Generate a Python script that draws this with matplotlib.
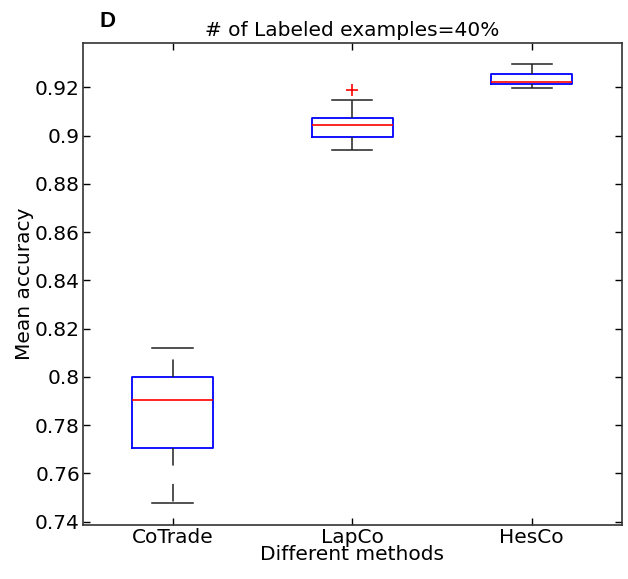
import matplotlib
matplotlib.use('Agg')
import matplotlib.pyplot as plt

plt.rcParams['font.family'] = ['DejaVu Sans']

# values
methods = ['CoTrade', 'LapCo', 'HesCo']
q1 = [0.7706, 0.8996, 0.9214]
med = [0.7904, 0.9046, 0.9223]
q3 = [0.7998, 0.9072, 0.9255]
whislo = [0.7477, 0.8942, 0.9197]
whishi = [0.8121, 0.9150, 0.9296]
outliers = [[], [0.9190], []]

stats = []
for i in range(len(methods)):
	stats.append(dict(label=methods[i], q1=q1[i], med=med[i], q3=q3[i],
					  whislo=whislo[i], whishi=whishi[i], fliers=outliers[i]))

fig = plt.figure(figsize=(6.28, 5.79), dpi=100)
ax = fig.add_axes([0.1317, 0.0933, 0.8580, 0.8319])

ax.bxp(stats, widths=0.45,
	   boxprops=dict(color='blue', linewidth=1.3),
	   medianprops=dict(color='red', linewidth=1.2),
	   whiskerprops=dict(color='#222222', linewidth=1.1, linestyle=(0, (11.5, 12))),
	   capprops=dict(color='#222222', linewidth=1.1),
	   flierprops=dict(marker='+', markeredgecolor='red', markersize=8, markeredgewidth=1.2))

ax.set_xlim(0.5, 3.5)
ax.set_ylim(0.7386, 0.9383)
ax.set_yticks([0.74, 0.76, 0.78, 0.8, 0.82, 0.84, 0.86, 0.88, 0.9, 0.92])
ax.set_yticklabels(['0.74', '0.76', '0.78', '0.8', '0.82', '0.84', '0.86', '0.88', '0.9', '0.92'])
ax.tick_params(direction='in', length=5, width=1, top=True, right=True, labelsize=14.5, pad=2)
for s in ax.spines.values():
	s.set_linewidth(1.2)
	s.set_color('#333333')

ax.set_title('# of Labeled examples=40%', fontsize=14.5, pad=5)
ax.set_xlabel('Different methods', fontsize=14.5, labelpad=-1)
ax.set_ylabel('Mean accuracy', fontsize=14.5, labelpad=1)
fig.text(0.159, 0.981, 'D', fontsize=16, fontweight='bold', family='Liberation Sans', va='top')

fig.savefig('out.png', dpi=100)
